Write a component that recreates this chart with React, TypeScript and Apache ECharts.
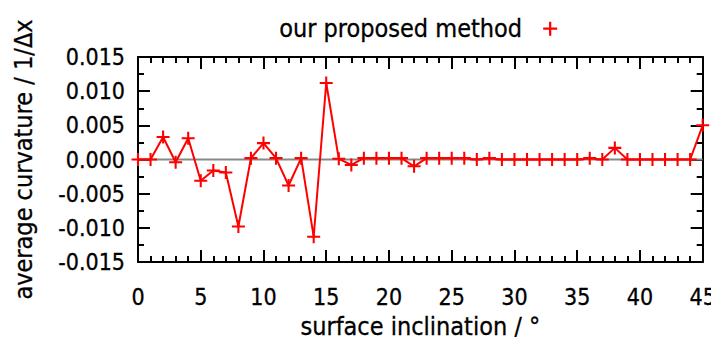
import React, { useEffect, useRef } from "react";
import * as echarts from "echarts";

const inclination = [0, 1, 2, 3, 4, 5, 6, 7, 8, 9, 10, 11, 12, 13, 14, 15, 16, 17, 18, 19, 20, 21, 22, 23, 24, 25, 26, 27, 28, 29, 30, 31, 32, 33, 34, 35, 36, 37, 38, 39, 40, 41, 42, 43, 44, 45];
const curvature = [0, 0, 0.0033, -0.0004, 0.0031, -0.0031, -0.0016, -0.0019, -0.0098, 0.0002, 0.0024, 0.0002, -0.0038, 0.0002, -0.0113, 0.0112, 0.0001, -0.0008, 0.0002, 0.0002, 0.0002, 0.0002, -0.001, 0.0002, 0.0002, 0.0002, 0.0002, 0, 0.0002, 0, 0, 0, 0, 0, 0, 0, 0.0002, 0, 0.0017, 0, 0, 0, 0, 0, 0, 0.005];
const xRange = [0, 45];
const yRange = [-0.015, 0.015];
const seriesName = "our proposed method";

const PLUS = "path://M0,4.2H10V5.8H0Z M4.2,0H5.8V10H4.2Z";
const FONT = "DejaVu Sans Condensed";

export default function App() {
  const ref = useRef<HTMLDivElement>(null);
  useEffect(() => {
    if (!ref.current) return;
    const chart = echarts.init(ref.current, undefined, { renderer: "svg" });
    const axisLine = { show: true, onZero: false, lineStyle: { color: "#000", width: 2 } };
    const tick = { show: true, inside: true, length: 12, lineStyle: { color: "#000", width: 2 } };
    const minorX = { show: true, splitNumber: 5, length: 6, lineStyle: { color: "#000", width: 2 } };
    const minorY = { show: true, splitNumber: 2, length: 6, lineStyle: { color: "#000", width: 2 } };
    const fmt = (v: number) => (Math.abs(v) < 1e-9 ? "0.000" : v.toFixed(3));
    const tickTxt = { fontFamily: FONT, fontSize: 23, color: "#000", textBorderColor: "#000", textBorderWidth: 0.3 };
    const nameTxt = { fontFamily: FONT, fontSize: 25, color: "#000", textBorderColor: "#000", textBorderWidth: 0.3 };
    chart.setOption({
      animation: false,
      grid: { left: 138, right: 16, top: 57, bottom: 83 },
      legend: {
        data: [{ name: seriesName, icon: PLUS }],
        left: 274,
        top: 11,
        align: "right",
        itemWidth: 14,
        itemHeight: 14,
        itemGap: 10,
        textStyle: { ...nameTxt, padding: [0, 16, 0, 0] },
      },
      xAxis: [
        {
          type: "value",
          min: xRange[0],
          max: xRange[1],
          interval: 5,
          position: "bottom",
          axisLine,
          axisTick: tick,
          minorTick: minorX,
          splitLine: { show: false },
          axisLabel: { ...tickTxt, margin: 23 },
          name: "surface inclination / °",
          nameLocation: "middle",
          nameGap: 52,
          nameTextStyle: nameTxt,
        },
        {
          type: "value",
          min: xRange[0],
          max: xRange[1],
          interval: 5,
          position: "top",
          axisLine,
          axisTick: tick,
          minorTick: minorX,
          splitLine: { show: false },
          axisLabel: { show: false },
        },
      ],
      yAxis: [
        {
          type: "value",
          min: yRange[0],
          max: yRange[1],
          interval: 0.005,
          position: "left",
          axisLine,
          axisTick: tick,
          minorTick: minorY,
          splitLine: { show: false },
          axisLabel: { ...tickTxt, margin: 13, formatter: fmt },
          name: "average curvature / 1/Δx",
          nameLocation: "middle",
          nameGap: 102,
          nameTextStyle: nameTxt,
        },
        {
          type: "value",
          min: yRange[0],
          max: yRange[1],
          interval: 0.005,
          position: "right",
          axisLine,
          axisTick: tick,
          minorTick: minorY,
          splitLine: { show: false },
          axisLabel: { show: false },
        },
      ],
      series: [
        {
          name: "zero",
          type: "line",
          data: xRange.map((x) => [x, 0]),
          symbol: "none",
          lineStyle: { color: "#888888", width: 2 },
          silent: true,
          z: 1,
        },
        {
          name: seriesName,
          type: "line",
          data: inclination.map((x, i) => [x, curvature[i]]),
          symbol: PLUS,
          symbolSize: 13,
          showAllSymbol: true,
          clip: false,
          itemStyle: { color: "#ff0000" },
          lineStyle: { color: "#ff0000", width: 2 },
          z: 3,
        },
      ],
    });
    return () => chart.dispose();
  }, []);
  return <div ref={ref} style={{ width: 719, height: 345, margin: -8 }} />;
}
